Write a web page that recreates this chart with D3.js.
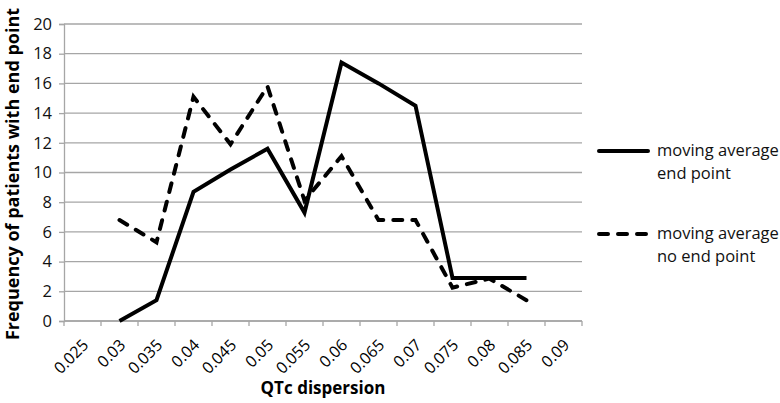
<!DOCTYPE html>
<html>
<head>
<meta charset="utf-8">
<script src="https://cdn.jsdelivr.net/npm/d3@7"></script>
<style>
  body { margin: 0; background: #fff; }
  text { font-family: "Open Sans", "Noto Sans", sans-serif; }
</style>
</head>
<body>
<div id="main"></div>
<script>
// categories on the x axis
var categories = ["0.025", "0.03", "0.035", "0.04", "0.045", "0.05", "0.055", "0.06", "0.065", "0.07", "0.075", "0.08", "0.085", "0.09"];
// moving average, patients with end point
var endPoint = [null, 0, 1.4, 8.7, 10.2, 11.6, 7.3, 17.4, 16.0, 14.5, 2.9, 2.9, 2.9, null];
// moving average, patients without end point
var noEndPoint = [null, 6.8, 5.3, 15.1, 11.9, 15.8, 8.1, 11.1, 6.8, 6.8, 2.25, 2.85, 1.4, null];
var yTicks = [0, 2, 4, 6, 8, 10, 12, 14, 16, 18, 20];

var dimensions = {
  width: 780,
  height: 403,
  margin: { top: 24, bottom: 82, right: 198, left: 64 }
}
dimensions.boundedWidth = dimensions.width - dimensions.margin.left - dimensions.margin.right
dimensions.boundedHeight = dimensions.height - dimensions.margin.top - dimensions.margin.bottom

var svg = d3.select("#main")
  .append("svg")
    .attr("width", dimensions.width)
    .attr("height", dimensions.height)

var SVG = svg.append("g")
    .attr("transform", "translate(" + dimensions.margin.left + "," + dimensions.margin.top + ")");

var x = d3.scaleBand()
  .domain(categories)
  .range([0, dimensions.boundedWidth])

var y = d3.scaleLinear()
  .domain([0, 20])
  .range([dimensions.boundedHeight, 0])

// horizontal gridlines
SVG.append("g")
  .selectAll("line")
  .data(yTicks)
  .enter()
  .append("line")
    .attr("x1", 0)
    .attr("x2", dimensions.boundedWidth)
    .attr("y1", function(d) { return y(d); })
    .attr("y2", function(d) { return y(d); })
    .style("stroke", "#a6a6a6")
    .style("stroke-width", 1.3)

// y axis
var yAxis = SVG.append("g")
  .call(d3.axisLeft(y).tickValues(yTicks).tickSize(5).tickPadding(7))
yAxis.select(".domain").attr("stroke", "#a6a6a6").attr("stroke-width", 1.3)
yAxis.selectAll(".tick line").attr("stroke", "#a6a6a6").attr("stroke-width", 1.3)
yAxis.selectAll("text")
  .style("font-size", "16.5px")
  .style("fill", "#111")

// x axis: ticks at band edges
var xAxis = SVG.append("g")
  .attr("transform", "translate(0," + dimensions.boundedHeight + ")")
xAxis.append("line")
  .attr("x1", 0).attr("x2", dimensions.boundedWidth)
  .attr("stroke", "#a6a6a6").attr("stroke-width", 1.3)
xAxis.selectAll(".edge")
  .data(categories.concat(["end"]))
  .enter()
  .append("line")
    .attr("class", "edge")
    .attr("x1", function(d, i) { return i < categories.length ? x(d) : dimensions.boundedWidth; })
    .attr("x2", function(d, i) { return i < categories.length ? x(d) : dimensions.boundedWidth; })
    .attr("y1", 0).attr("y2", 5)
    .attr("stroke", "#a6a6a6").attr("stroke-width", 1.3)
xAxis.selectAll(".lbl")
  .data(categories)
  .enter()
  .append("text")
    .attr("class", "lbl")
    .attr("transform", function(d) { return "translate(" + (x(d) + x.bandwidth() / 2 + 7) + ",25) rotate(-45)"; })
    .attr("text-anchor", "end")
    .style("font-size", "16px")
    .style("fill", "#000")
    .text(function(d) { return d; })

// lines
var line = d3.line()
  .defined(function(d) { return d != null; })
  .x(function(d, i) { return x(categories[i]) + x.bandwidth() / 2; })
  .y(function(d) { return y(d); })

SVG.append("path")
  .datum(noEndPoint)
  .attr("d", line)
  .style("fill", "none")
  .style("stroke", "#000")
  .style("stroke-width", 4)
  .style("stroke-linecap", "round")
  .style("stroke-dasharray", "9,10")

SVG.append("path")
  .datum(endPoint)
  .attr("d", line)
  .style("fill", "none")
  .style("stroke", "#000")
  .style("stroke-width", 4)
  .style("stroke-linejoin", "miter")

// axis titles
svg.append("text")
  .attr("transform", "translate(19,174) rotate(-90)")
  .attr("text-anchor", "middle")
  .style("font-size", "18px")
  .style("font-weight", "bold")
  .text("Frequency of patients with end point")

svg.append("text")
  .attr("x", dimensions.margin.left + dimensions.boundedWidth / 2)
  .attr("y", 394)
  .attr("text-anchor", "middle")
  .style("font-size", "17px")
  .style("font-weight", "bold")
  .text("QTc dispersion")

// legend
var legendItems = [
  { lines: ["moving average", "end point"], dash: null, y: 151 },
  { lines: ["moving average", "no end point"], dash: "9,10", y: 234 }
]
var legend = svg.append("g")
legendItems.forEach(function(item) {
  legend.append("line")
    .attr("x1", 599).attr("x2", 648)
    .attr("y1", item.y).attr("y2", item.y)
    .style("stroke", "#000")
    .style("stroke-width", 4)
    .style("stroke-linecap", "round")
    .style("stroke-dasharray", item.dash)
  item.lines.forEach(function(t, i) {
    legend.append("text")
      .attr("x", 657)
      .attr("y", item.y + 5 + i * 23)
      .style("font-size", "16.5px")
      .style("fill", "#111")
      .text(t)
  })
})
</script>
</body>
</html>
